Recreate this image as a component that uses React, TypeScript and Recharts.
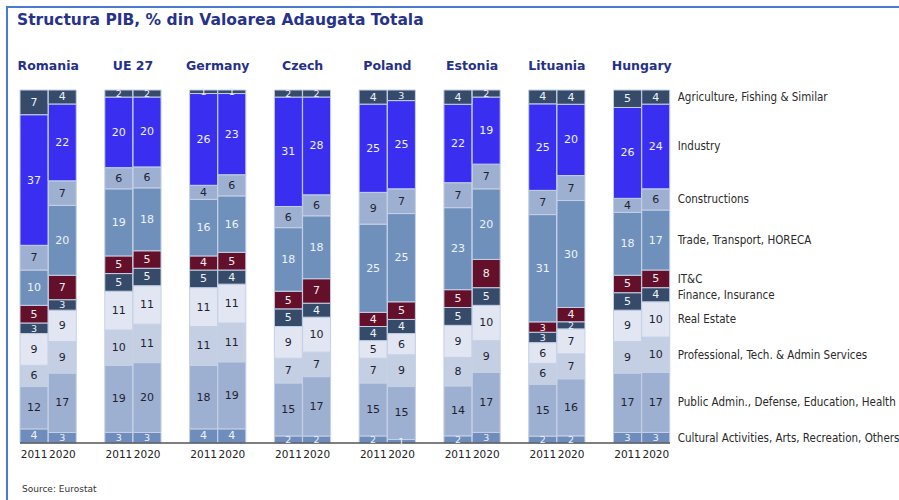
import React from "react"
import { BarChart, Bar, XAxis, YAxis, LabelList } from "recharts"

const countries = ["Romania", "UE 27", "Germany", "Czech", "Poland", "Estonia", "Lituania", "Hungary"]
const years = ["2011", "2020"]

// values per country, 2011 then 2020 (bottom of the stack first)
const cultural = [4, 3, 3, 3, 4, 4, 2, 2, 2, 1, 2, 3, 2, 2, 3, 3]
const publicAdmin = [12, 17, 19, 20, 18, 19, 15, 17, 15, 15, 14, 17, 15, 16, 17, 17]
const professional = [6, 9, 10, 11, 11, 11, 7, 7, 7, 9, 8, 9, 6, 7, 9, 10]
const realEstate = [9, 9, 11, 11, 11, 11, 9, 10, 5, 6, 9, 10, 6, 7, 9, 10]
const finance = [3, 3, 5, 5, 5, 4, 5, 4, 4, 4, 5, 5, 3, 2, 5, 4]
const itc = [5, 7, 5, 5, 4, 5, 5, 7, 4, 5, 5, 8, 3, 4, 5, 5]
const trade = [10, 20, 19, 18, 16, 16, 18, 18, 25, 25, 23, 20, 31, 30, 18, 17]
const constructions = [7, 7, 6, 6, 4, 6, 6, 6, 9, 7, 7, 7, 7, 7, 4, 6]
const industry = [37, 22, 20, 20, 26, 23, 31, 28, 25, 25, 22, 19, 25, 20, 26, 24]
const agriculture = [7, 4, 2, 2, 1, 1, 2, 2, 4, 3, 4, 2, 4, 4, 5, 4]

const sectors = [
    { key: "cultural", name: "Cultural Activities, Arts, Recreation, Others", values: cultural, color: "#6e8cbc", text: "#eef2fa" },
    { key: "publicAdmin", name: "Public Admin., Defense, Education, Health", values: publicAdmin, color: "#9eb0d2", text: "#1e2230" },
    { key: "professional", name: "Professional, Tech. & Admin Services", values: professional, color: "#c4cfe3", text: "#1e2230" },
    { key: "realEstate", name: "Real Estate", values: realEstate, color: "#e1e6f2", text: "#1e2230" },
    { key: "finance", name: "Finance, Insurance", values: finance, color: "#364a6a", text: "#eef2fa" },
    { key: "itc", name: "IT&C", values: itc, color: "#65102a", text: "#f4eef0" },
    { key: "trade", name: "Trade, Transport, HORECA", values: trade, color: "#7090bc", text: "#eef2fa" },
    { key: "constructions", name: "Constructions", values: constructions, color: "#9eb0d2", text: "#1e2230" },
    { key: "industry", name: "Industry", values: industry, color: "#3a2ff0", text: "#eef2fa" },
    { key: "agriculture", name: "Agriculture, Fishing & Similar", values: agriculture, color: "#364a6a", text: "#eef2fa" },
]

type Row = { key: string; country?: string; year?: string; [k: string]: any }

const rows: Row[] = []
countries.forEach((c, ci) => {
    years.forEach((y, yi) => {
        const row: Row = { key: `${c}-${y}`, country: c, year: y }
        sectors.forEach((s) => {
            row[s.key] = s.values[ci * 2 + yi]
        })
        rows.push(row)
    })
    if (ci < countries.length - 1) rows.push({ key: `gap-${ci}` })
})

// the label index skips the empty spacer rows
const barRows = rows.filter((r) => r.year)

const numFont = "'DejaVu Sans', Verdana, sans-serif"
const legendFont = "'DejaVu Sans Condensed', 'DejaVu Sans', sans-serif"

const makeLabel = (s: (typeof sectors)[number]) => (props: any) => {
    const { x, y, width, height, index } = props
    const v = barRows[index] ? barRows[index][s.key] : undefined
    if (v == null) return null
    const cx = Number(x) + Number(width) / 2
    const cy = Number(y) + Number(height) / 2
    return (
        <g>
            <text x={cx} y={cy} textAnchor="middle" dominantBaseline="central" fontSize={v <= 3 ? 9.5 : 11} fontFamily={numFont} fill={s.text}>
                {v}
            </text>
            {index === barRows.length - 1 && (
                <text x={Number(x) + Number(width) + 8} y={cy} dominantBaseline="central" fontSize={11.5} fontFamily={legendFont} fill="#2a2a2a">
                    {s.name}
                </text>
            )}
        </g>
    )
}

const CountryTick = (props: any) => {
    const { x, y, payload } = props
    const row = rows[payload.index]
    if (!row || row.year !== "2011") return null
    const half = payload.offset ?? 14
    return (
        <text x={x + half} y={y - 12} textAnchor="middle" fontSize={12.5} fontWeight="bold" fontFamily={numFont} fill="#25308a">
            {row.country}
        </text>
    )
}

export default function App() {
    return (
        <div style={{ position: "absolute", left: 0, top: 0, width: 899, height: 500, background: "#fff", overflow: "hidden" }}>
            <div style={{ position: "absolute", left: 6, top: 6, width: 900, height: 500, borderLeft: "2px solid #4a7bd0", borderTop: "2px solid #4a7bd0" }} />
            <div style={{ position: "absolute", left: 17, top: 11, fontFamily: numFont, fontWeight: "bold", fontSize: 15.5, color: "#27338a", whiteSpace: "nowrap" }}>
                Structura PIB, % din Valoarea Adaugata Totala
            </div>
            <div style={{ position: "absolute", left: 22, top: 484, fontFamily: numFont, fontSize: 9, color: "#333" }}>
                Source: Eurostat
            </div>
            <div style={{ position: "absolute", left: 0, top: 0 }}>
                <BarChart
                    width={899}
                    height={500}
                    data={rows}
                    stackOffset="expand"
                    barCategoryGap={0}
                    margin={{ top: 60, right: 229, bottom: 37, left: 20 }}
                >
                    <XAxis
                        dataKey="key"
                        interval={0}
                        height={20}
                        tickLine={false}
                        axisLine={{ stroke: "#555", strokeWidth: 1.5 }}
                        tick={{ fontSize: 10.5, fill: "#222", fontFamily: numFont }}
                        tickFormatter={(v: string) => {
                            const r = rows.find((row) => row.key === v)
                            return r && r.year ? r.year : ""
                        }}
                    />
                    <XAxis
                        xAxisId="top"
                        orientation="top"
                        dataKey="key"
                        interval={0}
                        height={30}
                        tickLine={false}
                        axisLine={false}
                        tick={<CountryTick />}
                    />
                    <YAxis hide domain={[0, 1]} />
                    {sectors.map((s) => (
                        <Bar
                            key={s.key}
                            dataKey={s.key}
                            stackId="a"
                            fill={s.color}
                            stroke="#c5d0e6"
                            strokeWidth={1}
                            isAnimationActive={false}
                        >
                            <LabelList dataKey={s.key} content={makeLabel(s)} />
                        </Bar>
                    ))}
                </BarChart>
            </div>
        </div>
    )
}
